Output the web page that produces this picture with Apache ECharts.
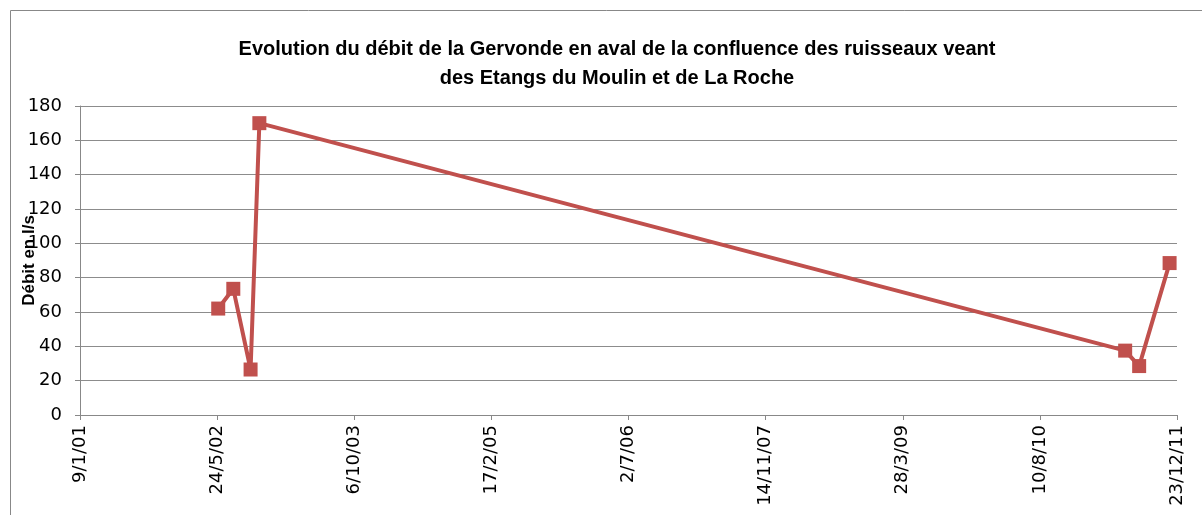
<!DOCTYPE html>
<html>
<head>
<meta charset="utf-8">
<script src="https://cdn.jsdelivr.net/npm/echarts@6/dist/echarts.min.js"></script>
<style>
html,body{margin:0;padding:0;background:#fff;}
#main{width:1202px;height:515px;}
</style>
</head>
<body>
<div id="main"></div>
<script>
// dates of the measurements (d/m/yyyy) and flow in l/s
var dates=['28/5/2002','22/7/2002','23/9/2002','25/10/2002','17/6/2011','7/8/2011','26/11/2011'];
var debit=[62,73.5,26.5,170,37.5,28.5,88.5];
var axisStart='9/1/2001';
var axisEnd='23/12/2011';
var tickDays=500;

function toUTC(s){var p=s.split('/');return Date.UTC(+p[2],+p[1]-1,+p[0]);}
var DAY=86400000;
var base=toUTC(axisStart);
function dayOf(s){return Math.round((toUTC(s)-base)/DAY);}

var seriesData=dates.map(function(d,i){return [dayOf(d),debit[i]];});

var myChart=echarts.init(document.getElementById('main'));
var option={
  animation:false,
  title:{
    text:'Evolution du débit de la Gervonde en aval de la confluence des ruisseaux veant\ndes Etangs du Moulin et de La Roche',
    left:612,top:30,textAlign:'center',
    textStyle:{fontFamily:'Liberation Sans',fontWeight:'bold',fontSize:20,lineHeight:29,color:'#000'}
  },
  graphic:[{type:'rect',shape:{x:10.5,y:10.5,width:1300,height:600},style:{fill:'none',stroke:'#888',lineWidth:1}}],
  grid:{left:80,right:25,top:106,bottom:100,containLabel:false,outerBoundsMode:'none'},
  xAxis:{
    type:'value',min:0,max:dayOf(axisEnd),interval:tickDays,
    axisLine:{lineStyle:{color:'#888',width:1}},
    axisTick:{show:true,length:5,lineStyle:{color:'#888'}},
    splitLine:{show:false},
    axisLabel:{
      rotate:90,margin:10,color:'#000',fontFamily:'DejaVu Sans',fontSize:18,
      showMaxLabel:true,
      formatter:function(v){
        var d=new Date(base+v*DAY);
        return d.getUTCDate()+'/'+(d.getUTCMonth()+1)+'/'+String(d.getUTCFullYear()).slice(2);
      }
    }
  },
  yAxis:{
    type:'value',min:0,max:180,interval:20,
    name:'Débit en l/s',nameLocation:'middle',nameGap:42,nameMoveOverlap:false,
    nameTextStyle:{fontFamily:'Liberation Sans',fontWeight:'bold',fontSize:17,color:'#000'},
    axisLine:{show:true,lineStyle:{color:'#888',width:1}},
    axisTick:{show:true,length:5,lineStyle:{color:'#888'}},
    splitLine:{lineStyle:{color:'#8c8c8c',width:1.2}},
    axisLabel:{margin:18,color:'#000',fontFamily:'DejaVu Sans',fontSize:18}
  },
  series:[{
    type:'line',data:seriesData,
    symbol:'rect',symbolSize:14,
    lineStyle:{color:'#C0504D',width:4},
    itemStyle:{color:'#C0504D'}
  }]
};
myChart.setOption(option);
</script>
</body>
</html>
